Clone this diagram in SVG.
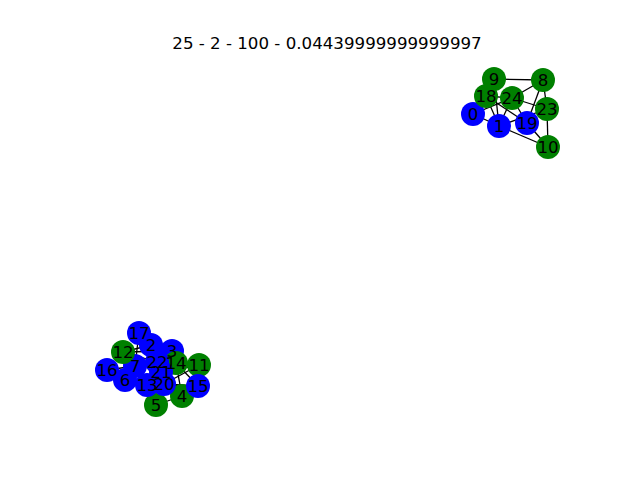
<svg xmlns="http://www.w3.org/2000/svg" width="640" height="480" viewBox="0 0 640 480">
<style>
.e{stroke:#000;stroke-width:1.3;fill:none}
.b{fill:#0000ff}
.g{fill:#008000}
text{font-family:"DejaVu Sans",sans-serif;font-size:16.67px;text-anchor:middle;dominant-baseline:central;fill:#000}
</style>
<rect width="640" height="480" fill="#fff"/>
<text x="327" y="43" style="dominant-baseline:auto" dy="6">25 - 2 - 100 - 0.04439999999999997</text>
<g id="connectors">
<line class="e" x1="494" y1="79" x2="543" y2="80"/>
<line class="e" x1="494" y1="79" x2="486" y2="96"/>
<line class="e" x1="494" y1="79" x2="499" y2="126"/>
<line class="e" x1="486" y1="96" x2="512" y2="98"/>
<line class="e" x1="486" y1="96" x2="499" y2="126"/>
<line class="e" x1="473" y1="114" x2="512" y2="98"/>
<line class="e" x1="473" y1="114" x2="499" y2="126"/>
<line class="e" x1="512" y1="98" x2="543" y2="80"/>
<line class="e" x1="512" y1="98" x2="547" y2="109"/>
<line class="e" x1="512" y1="98" x2="499" y2="126"/>
<line class="e" x1="512" y1="98" x2="527" y2="123"/>
<line class="e" x1="543" y1="80" x2="547" y2="109"/>
<line class="e" x1="543" y1="80" x2="527" y2="123"/>
<line class="e" x1="547" y1="109" x2="548" y2="147"/>
<line class="e" x1="547" y1="109" x2="499" y2="126"/>
<line class="e" x1="499" y1="126" x2="548" y2="147"/>
<line class="e" x1="527" y1="123" x2="548" y2="147"/>
<line class="e" x1="486" y1="96" x2="527" y2="123"/>
<line class="e" x1="139" y1="333" x2="151" y2="345"/>
<line class="e" x1="139" y1="333" x2="135" y2="366"/>
<line class="e" x1="123" y1="352" x2="157" y2="362"/>
<line class="e" x1="123" y1="352" x2="151" y2="345"/>
<line class="e" x1="123" y1="352" x2="161" y2="372"/>
<line class="e" x1="123" y1="352" x2="172" y2="351"/>
<line class="e" x1="151" y1="345" x2="172" y2="351"/>
<line class="e" x1="151" y1="345" x2="157" y2="362"/>
<line class="e" x1="172" y1="351" x2="176" y2="363"/>
<line class="e" x1="172" y1="351" x2="157" y2="362"/>
<line class="e" x1="176" y1="363" x2="199" y2="365"/>
<line class="e" x1="176" y1="363" x2="198" y2="386"/>
<line class="e" x1="176" y1="363" x2="182" y2="396"/>
<line class="e" x1="199" y1="365" x2="164" y2="384"/>
<line class="e" x1="199" y1="365" x2="161" y2="372"/>
<line class="e" x1="198" y1="386" x2="164" y2="384"/>
<line class="e" x1="198" y1="386" x2="147" y2="385"/>
<line class="e" x1="182" y1="396" x2="164" y2="384"/>
<line class="e" x1="182" y1="396" x2="156" y2="405"/>
<line class="e" x1="182" y1="396" x2="147" y2="385"/>
<line class="e" x1="156" y1="405" x2="164" y2="384"/>
<line class="e" x1="156" y1="405" x2="147" y2="385"/>
<line class="e" x1="107" y1="370" x2="135" y2="366"/>
<line class="e" x1="107" y1="370" x2="125" y2="380"/>
<line class="e" x1="125" y1="380" x2="147" y2="385"/>
<line class="e" x1="135" y1="366" x2="157" y2="362"/>
<line class="e" x1="161" y1="372" x2="147" y2="385"/>
<line class="e" x1="164" y1="384" x2="157" y2="362"/>
</g>
<g id="n0"><circle class="b" cx="473" cy="114" r="12"/></g>
<g id="n1"><circle class="b" cx="499" cy="126" r="12"/></g>
<g id="n2"><circle class="b" cx="151" cy="345" r="12"/></g>
<g id="n3"><circle class="b" cx="172" cy="351" r="12"/></g>
<g id="n4"><circle class="g" cx="182" cy="396" r="12"/></g>
<g id="n5"><circle class="g" cx="156" cy="405" r="12"/></g>
<g id="n6"><circle class="b" cx="125" cy="380" r="12"/></g>
<g id="n7"><circle class="b" cx="135" cy="366" r="12"/></g>
<g id="n8"><circle class="g" cx="543" cy="80" r="12"/></g>
<g id="n9"><circle class="g" cx="494" cy="79" r="12"/></g>
<g id="n10"><circle class="g" cx="548" cy="147" r="12"/></g>
<g id="n11"><circle class="g" cx="199" cy="365" r="12"/></g>
<g id="n12"><circle class="g" cx="123" cy="352" r="12"/></g>
<g id="n13"><circle class="b" cx="147" cy="385" r="12"/></g>
<g id="n14"><circle class="g" cx="176" cy="363" r="12"/></g>
<g id="n15"><circle class="b" cx="198" cy="386" r="12"/></g>
<g id="n16"><circle class="b" cx="107" cy="370" r="12"/></g>
<g id="n17"><circle class="b" cx="139" cy="333" r="12"/></g>
<g id="n18"><circle class="g" cx="486" cy="96" r="12"/></g>
<g id="n19"><circle class="b" cx="527" cy="123" r="12"/></g>
<g id="n20"><circle class="b" cx="164" cy="384" r="12"/></g>
<g id="n21"><circle class="b" cx="161" cy="372" r="12"/></g>
<g id="n22"><circle class="b" cx="157" cy="362" r="12"/></g>
<g id="n23"><circle class="g" cx="547" cy="109" r="12"/></g>
<g id="n24"><circle class="g" cx="512" cy="98" r="12"/></g>
<g id="labels">
<text x="473" y="114">0</text>
<text x="499" y="126">1</text>
<text x="151" y="345">2</text>
<text x="172" y="351">3</text>
<text x="182" y="396">4</text>
<text x="156" y="405">5</text>
<text x="125" y="380">6</text>
<text x="135" y="366">7</text>
<text x="543" y="80">8</text>
<text x="494" y="79">9</text>
<text x="548" y="147">10</text>
<text x="199" y="365">11</text>
<text x="123" y="352">12</text>
<text x="147" y="385">13</text>
<text x="176" y="363">14</text>
<text x="198" y="386">15</text>
<text x="107" y="370">16</text>
<text x="139" y="333">17</text>
<text x="486" y="96">18</text>
<text x="527" y="123">19</text>
<text x="164" y="384">20</text>
<text x="161" y="372">21</text>
<text x="157" y="362">22</text>
<text x="547" y="109">23</text>
<text x="512" y="98">24</text>
</g>
</svg>
